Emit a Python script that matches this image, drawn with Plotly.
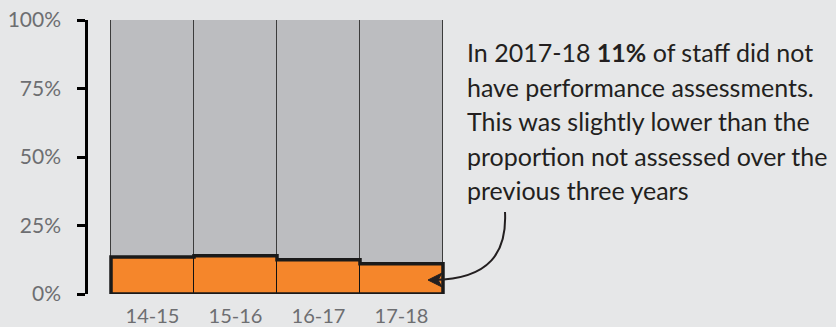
import plotly.graph_objects as go

# Share of staff without a performance assessment, by year
years = ["14-15", "15-16", "16-17", "17-18"]
not_assessed = [13.5, 14.0, 12.5, 11.0]
assessed = [100 - v for v in not_assessed]

y_ticks = [0, 25, 50, 75, 100]
y_tick_labels = ["0%", "25%", "50%", "75%", "100%"]

note_lines = [
    "In 2017-18 <b>11%</b> of staff did not",
    "have performance assessments.",
    "This was slightly lower than the",
    "proportion not assessed over the",
    "previous three years",
]

BG = "#e6e7e8"
ORANGE = "#f5862b"
GREY = "#bcbdc0"
TICK_GREY = "#6d6e71"
INK = "#231f20"
FONT = "Lato"

W, H = 836, 327
ML, MR, MT, MB = 88, 0, 20, 33
PX_PER_BAR = 83.0
BAR_LEFT_PX = 111
plot_w = W - ML - MR
plot_h = H - MT - MB

x0 = -0.5 - (BAR_LEFT_PX - ML) / PX_PER_BAR
x_range = [x0, x0 + plot_w / PX_PER_BAR]


def px_to_paper(px, py):
    return (px - ML) / plot_w, (H - MB - py) / plot_h


xs = list(range(len(years)))

fig = go.Figure()
fig.add_trace(go.Bar(
    x=xs, y=not_assessed, width=1, marker_color=ORANGE,
    marker_line=dict(color="#111111", width=1), hoverinfo="skip",
))
fig.add_trace(go.Bar(
    x=xs, y=assessed, width=1, marker_color=GREY,
    marker_line=dict(color="#3c3c3c", width=1), hoverinfo="skip",
))

# Thick step outline around the "not assessed" band
ox = [-0.5]
oy = [0]
for i, v in enumerate(not_assessed):
    ox += [i - 0.5, i + 0.5]
    oy += [v, v]
ox += [len(years) - 0.5, -0.5]
oy += [0, 0]
fig.add_trace(go.Scatter(
    x=ox, y=oy, mode="lines", line=dict(color="#1a1a1a", width=3.5),
    cliponaxis=False, hoverinfo="skip",
))

# Note text, one line per annotation
line_y_px = [52, 87, 121, 156, 190]
for txt, ly in zip(note_lines, line_y_px):
    px, py = px_to_paper(465, ly)
    fig.add_annotation(
        x=px, y=py, xref="paper", yref="paper", text=txt, showarrow=False,
        xanchor="left", yanchor="middle",
        font=dict(family=FONT, size=25, color=INK),
    )

# Curved pointer from the note down to the last bar
p = [px_to_paper(*pt) for pt in [(505, 212), (507, 252), (490, 279), (434, 280)]]
fig.add_shape(
    type="path", xref="paper", yref="paper",
    path=f"M {p[0][0]},{p[0][1]} C {p[1][0]},{p[1][1]} {p[2][0]},{p[2][1]} {p[3][0]},{p[3][1]}",
    line=dict(color=INK, width=2),
)
h = [px_to_paper(*pt) for pt in [(428, 280), (442, 273), (438, 280), (442, 287)]]
fig.add_shape(
    type="path", xref="paper", yref="paper",
    path=f"M {h[0][0]},{h[0][1]} L {h[1][0]},{h[1][1]} L {h[2][0]},{h[2][1]} L {h[3][0]},{h[3][1]} Z",
    line=dict(color=INK, width=1), fillcolor=INK,
)

fig.update_layout(
    width=W, height=H, barmode="stack", bargap=0, showlegend=False,
    paper_bgcolor=BG, plot_bgcolor=BG,
    margin=dict(l=ML, r=MR, t=MT, b=MB, pad=0, autoexpand=False),
    font=dict(family=FONT, color=TICK_GREY),
)
fig.update_xaxes(
    range=x_range, tickvals=xs, ticktext=years, showgrid=False, zeroline=False,
    showline=False, ticks="", tickfont=dict(size=20, color=TICK_GREY),
    ticklabelstandoff=8, fixedrange=True, automargin=False,
)
fig.update_yaxes(
    range=[0, 100], tickvals=y_ticks, ticktext=y_tick_labels, showgrid=False,
    zeroline=False, showline=True, linecolor="#000000", linewidth=2.5,
    ticks="outside", ticklen=8, tickwidth=2.5, tickcolor="#000000",
    tickfont=dict(size=21, color=TICK_GREY), ticklabelstandoff=12,
    fixedrange=True, automargin=False,
)

fig.write_html("out.html")
